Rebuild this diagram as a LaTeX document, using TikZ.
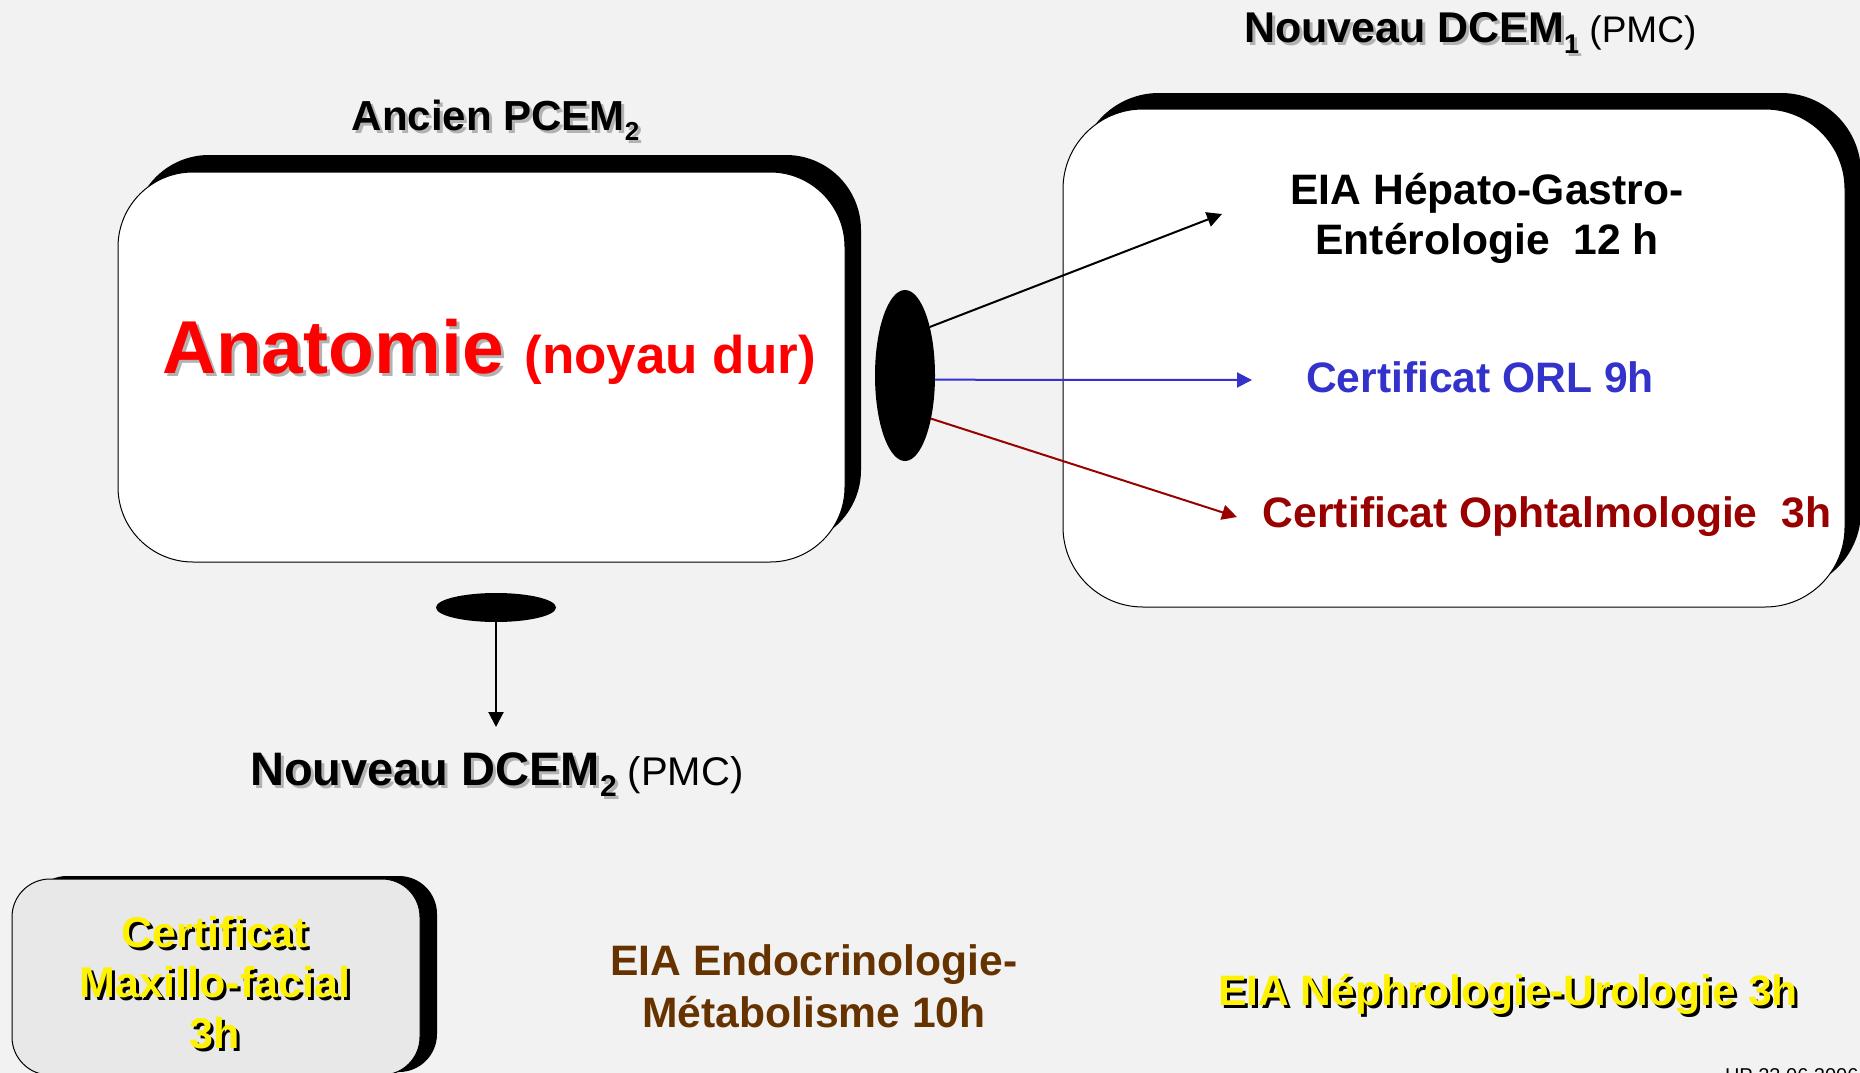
\documentclass[tikz,border=0pt]{standalone}
\usepackage{fontspec}
\setmainfont{Liberation Sans}
\usetikzlibrary{arrows.meta,shapes.geometric}
\definecolor{bg}{HTML}{F2F2F2}
\definecolor{shgray}{HTML}{B2B2B2}
\definecolor{orlblue}{HTML}{3333CC}
\definecolor{ophred}{HTML}{990000}
\definecolor{endobrown}{HTML}{663300}
\definecolor{boxgray}{HTML}{E8E8E8}
\newcommand\fsz[2]{\fontsize{#1}{#2}\selectfont}
\newcommand\lsub[3]{\raisebox{-#2pt}{\fontsize{#1}{#1}\selectfont #3}}
\begin{document}
\begin{tikzpicture}[x=1pt,y=-1pt,
  box/.style={draw=black, line width=1pt, fill=white, inner sep=0pt, outer sep=0pt},
  boxshadow/.style={fill=black, draw=none, inner sep=0pt, outer sep=0pt},
  blob/.style={ellipse, fill=black, draw=none, inner sep=0pt, outer sep=0pt},
  lbl/.style={inner sep=0pt, outer sep=0pt, anchor=base, align=center},
  arr/.style={line width=2pt, -{Triangle[length=15pt,width=15pt]}}]
\useasboundingbox[fill=bg] (0,0) rectangle (1860,1073);

% boxes
\node[boxshadow, rounded corners=75pt, minimum width=727pt, minimum height=390pt] (lboxS) at (497.5,350) {};
\node[box, rounded corners=75pt, minimum width=727pt, minimum height=390pt] (lbox) at (481.5,367) {};
\node[boxshadow, rounded corners=80pt, minimum width=782pt, minimum height=498pt] (rboxS) at (1470,342) {};
\node[box, rounded corners=80pt, minimum width=782pt, minimum height=498pt] (rbox) at (1454,358) {};
\node[boxshadow, rounded corners=38pt, minimum width=408pt, minimum height=196pt] (bboxS) at (233,974) {};
\node[box, fill=boxgray, rounded corners=38pt, minimum width=408pt, minimum height=196pt] (bbox) at (216,977) {};

% blobs
\node[blob, minimum width=60pt, minimum height=171pt] (vdot) at (905,375.5) {};
\node[blob, minimum width=120pt, minimum height=29pt] (hdot) at (496,607.5) {};

% arrow ends
\coordinate (tipA) at (1222,214);
\coordinate (tipB) at (1252,380);
\coordinate (tipC) at (1237,517);
\coordinate (tipD) at (496,727);
\draw[arr, black] (vdot.63) -- (tipA);
\draw[arr, orlblue] (vdot.-8.6) -- (tipB);
\draw[arr, ophred] (vdot.-59) -- (tipC);
\draw[arr, black] (hdot.south) -- (tipD);

% headings
\node[lbl, text=shgray] (ancienS) at (498.5,133) {\fsz{42}{50}\bfseries Ancien PCEM\lsub{26}{10}{2}};
\node[lbl] (ancien) at (495.5,130) {\fsz{42}{50}\bfseries Ancien PCEM\lsub{26}{10}{2}};

\node[lbl, text=shgray] (dcemoneS) at (1466,46) {\fsz{43}{50}\phantom{(}\bfseries Nouveau DCEM\lsub{27}{10}{1}\phantom{\mdseries\fsz{37}{40} (PMC)}};
\node[lbl] (dcemone) at (1463,43) {\fsz{43}{50}\phantom{(}\bfseries Nouveau DCEM\lsub{27}{10}{1}{\mdseries\fsz{37}{40} (PMC)}};

\node[lbl, text=shgray] (dcemtwoS) at (492,788) {\fsz{47}{50}\phantom{(}\bfseries Nouveau DCEM\lsub{30}{11}{2}\phantom{\mdseries\fsz{40}{40} (PMC)}};
\node[lbl] (dcemtwo) at (489,785) {\fsz{47}{50}\phantom{(}\bfseries Nouveau DCEM\lsub{30}{11}{2}{\mdseries\fsz{40}{40} (PMC)}};

% Anatomie
\node[lbl, anchor=base west, text=shgray] (anatS) at (165,376) {\fsz{75}{80}\bfseries Anatomie};
\node[lbl, anchor=base west, text=red] (anat) at (162,373) {\fsz{75}{80}\bfseries Anatomie {\fsz{53}{60}(noyau dur)}};

% right box texts
\node[lbl, font=\fsz{42.6}{50}\bfseries] (hepato) at (1487,254) {EIA Hépato-Gastro-\\Entérologie\ \ 12 h};
\node[lbl, text=orlblue, font=\fsz{42.6}{50}\bfseries] (orl) at (1480,392) {Certificat ORL 9h};
\node[lbl, text=ophred, font=\fsz{42.6}{50}\bfseries] (oph) at (1547,527) {Certificat Ophtalmologie\ \ 3h};

% bottom texts
\node[lbl, text=black, font=\fsz{43}{50.5}\bfseries] (maxS) at (218,1051) {Certificat\\Maxillo-facial\\3h};
\node[lbl, text=yellow, font=\fsz{43}{50.5}\bfseries] (max) at (215,1048) {Certificat\\Maxillo-facial\\3h};

\node[lbl, text=endobrown, font=\fsz{42.6}{52}\bfseries] (endo) at (814,1027) {EIA Endocrinologie-\\Métabolisme 10h};

\node[lbl, text=black, font=\fsz{42.6}{50}\bfseries] (nephS) at (1511,1008.5) {EIA Néphrologie-Urologie 3h};
\node[lbl, text=yellow, font=\fsz{42.6}{50}\bfseries] (neph) at (1508,1005.5) {EIA Néphrologie-Urologie 3h};

\node[lbl, anchor=base west, font=\fsz{20}{24}] (hp) at (1725,1082) {HP 23.06.2006};
\end{tikzpicture}
\end{document}
